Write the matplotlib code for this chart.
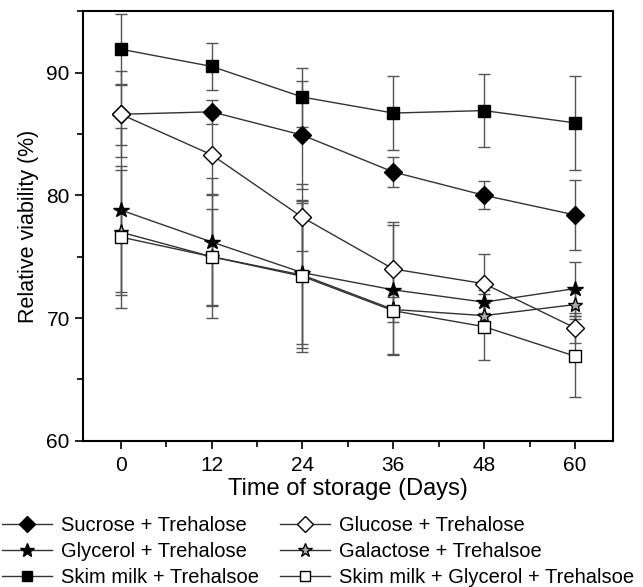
import matplotlib
matplotlib.use("Agg")
import matplotlib.pyplot as plt
from matplotlib.ticker import MultipleLocator

plt.rcParams['font.family'] = ['Liberation Sans', 'DejaVu Sans']

# storage time (days)
days = [0, 12, 24, 36, 48, 60]

# relative viability (%) and error bars
sucrose = [86.6, 86.8, 84.9, 81.9, 80.0, 78.4]
sucrose_err = [3.5, 1.0, 4.4, 1.2, 1.15, 2.85]

glucose = [86.6, 83.3, 78.2, 74.0, 72.8, 69.2]
glucose_err = [2.5, 3.2, 2.7, 3.8, 2.4, 1.2]

glycerol = [78.8, 76.2, 73.7, 72.3, 71.3, 72.4]
glycerol_err = [6.7, 5.2, 5.8, 5.3, 1.0, 2.2]

galactose = [77.0, 75.0, 73.5, 70.7, 70.2, 71.1]
galactose_err = [5.1, 3.9, 5.9, 1.0, 1.0, 1.2]

skim_milk = [91.9, 90.5, 88.0, 86.7, 86.9, 85.9]
skim_milk_err = [2.9, 1.9, 2.4, 3.0, 2.95, 3.8]

skim_gly = [76.6, 75.0, 73.4, 70.6, 69.3, 66.9]
skim_gly_err = [5.8, 5.0, 6.2, 3.5, 2.7, 3.3]

labels = ['Sucrose + Trehalose', 'Glucose + Trehalose', 'Glycerol + Trehalose',
          'Galactose + Trehalsoe', 'Skim milk + Trehalsoe', 'Skim milk + Glycerol + Trehalsoe']

fig = plt.figure(figsize=(6.43, 5.87), dpi=100)
ax = fig.add_axes([0.129, 0.249, 0.824, 0.732])

line_col = '#333333'
err_col = '#555555'

series = [
    (sucrose, sucrose_err, 'D', 'black', 9),
    (glucose, glucose_err, 'D', 'white', 9),
    (glycerol, glycerol_err, '*', 'black', 11.5),
    (galactose, galactose_err, '*', '#aaaaaa', 11),
    (skim_milk, skim_milk_err, 's', 'black', 8),
    (skim_gly, skim_gly_err, 's', 'white', 8),
]

handles = []
for (vals, errs, mk, fc, ms), lab in zip(series, labels):
    ax.errorbar(days, vals, yerr=errs, fmt='none', ecolor=err_col,
                elinewidth=1.0, capsize=4, capthick=1.0, zorder=2)
    h, = ax.plot(days, vals, color=line_col, linewidth=1.0, marker=mk,
                 markersize=ms, markerfacecolor=fc, markeredgecolor='black',
                 markeredgewidth=1.0, label=lab, zorder=3)
    handles.append(h)

ax.set_xlim(-5, 65)
ax.set_ylim(60, 95)
ax.set_xticks(days)
ax.xaxis.set_minor_locator(MultipleLocator(6))
ax.yaxis.set_major_locator(MultipleLocator(10))
ax.yaxis.set_minor_locator(MultipleLocator(5))
ax.tick_params(which='major', direction='out', length=6, width=1.2, labelsize=15)
ax.tick_params(axis='x', which='major', pad=5)
ax.tick_params(which='minor', direction='out', length=4, width=1.2)
for sp in ax.spines.values():
    sp.set_linewidth(1.5)

ax.set_xlabel('Time of storage (Days)', fontsize=17, labelpad=2)
ax.set_ylabel('Relative viability (%)', fontsize=15.5, labelpad=5)

# legend in two columns, row-major order as in the original
order = [0, 2, 4, 1, 3, 5]
fig.legend([handles[i] for i in order], [labels[i] for i in order],
           ncol=2, loc='lower left', bbox_to_anchor=(0.0, -0.003),
           frameon=False, fontsize=14.5, handlelength=2.5, handletextpad=0.45,
           columnspacing=1.0, labelspacing=0.35, borderpad=0.1,
           borderaxespad=0.0, markerscale=0.9)

fig.savefig('out.png', dpi=100)
